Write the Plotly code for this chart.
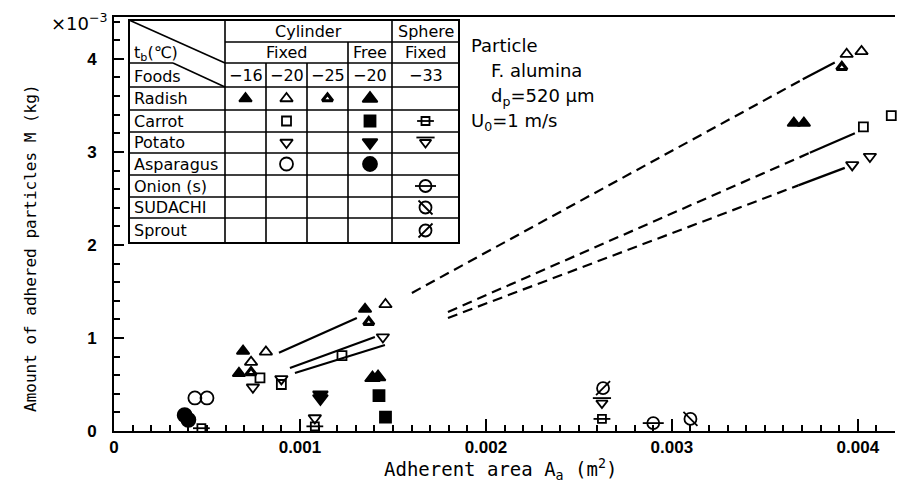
import plotly.graph_objects as go

# ---------------- data (x: adherent area [m^2], y: adhered mass [x1e-3 kg]) ----------------
radish_m16_x = [0.000694, 0.000672, 0.00135, 0.003656, 0.00371]
radish_m16_y = [0.86, 0.62, 1.31, 3.31, 3.31]
radish_m20_x = [0.000737, 0.000817, 0.00146, 0.00394, 0.00402]
radish_m20_y = [0.74, 0.85, 1.36, 4.05, 4.08]
radish_m25_x = [0.000737, 0.00137, 0.003914]
radish_m25_y = [0.63, 1.17, 3.91]
radish_free_x = [0.00139, 0.00142]
radish_free_y = [0.57, 0.58]

carrot_fixed_x = [0.000785, 0.0009, 0.001226, 0.00403, 0.00418]
carrot_fixed_y = [0.57, 0.50, 0.81, 3.27, 3.39]
carrot_free_x = [0.001425, 0.00146]
carrot_free_y = [0.38, 0.15]
carrot_sphere_x = [0.00047, 0.00108, 0.002624]
carrot_sphere_y = [0.03, 0.05, 0.13]

potato_fixed_x = [0.000747, 0.0009, 0.00108, 0.001446, 0.00397, 0.004065]
potato_fixed_y = [0.47, 0.56, 0.14, 1.01, 2.86, 2.95]
potato_free_x = [0.00111, 0.00111]
potato_free_y = [0.39, 0.35]
potato_sphere_x = [0.002624]
potato_sphere_y = [0.30]

asparagus_fixed_x = [0.000435, 0.0005]
asparagus_fixed_y = [0.355, 0.355]
asparagus_free_x = [0.00038, 0.0004]
asparagus_free_y = [0.17, 0.12]

onion_x = [0.0029]
onion_y = [0.085]
sudachi_x = [0.0031]
sudachi_y = [0.13]
sprout_x = [0.00263]
sprout_y = [0.46]

# fitted / extrapolated lines
radish_solid_x = [0.000887, 0.001306]
radish_solid_y = [0.84, 1.215]
radish_dash_x = [0.001602, 0.003704]
radish_dash_y = [1.484, 3.78]
radish_end_x = [0.003704, 0.003876]
radish_end_y = [3.78, 3.96]

potato_solid_x = [0.000946, 0.001403]
potato_solid_y = [0.677, 1.011]
carrot_solid_x = [0.000973, 0.001457]
carrot_solid_y = [0.624, 0.925]

carrot_dash_x = [0.001796, 0.003742]
carrot_dash_y = [1.28, 2.99]
carrot_end_x = [0.003742, 0.003984]
carrot_end_y = [2.99, 3.20]
potato_dash_x = [0.001796, 0.00368]
potato_dash_y = [1.215, 2.64]
potato_end_x = [0.00368, 0.00393]
potato_end_y = [2.64, 2.828]

x_tickvals = [0, 0.001, 0.002, 0.003, 0.004]
x_ticktext = ["0", "0.001", "0.002", "0.003", "0.004"]
y_tickvals = [0, 1, 2, 3, 4]
y_ticktext = ["0", "1", "2", "3", "4"]

table_cols = ["−16", "−20", "−25", "−20", "−33"]
table_foods = ["Radish", "Carrot", "Potato", "Asparagus", "Onion (s)", "SUDACHI", "Sprout"]

# ---------------- styles ----------------
K = "black"
W = "white"
PX_PER_UNIT = 93.0  # vertical pixels per 1e-3 kg


def L(symbol, size, color=K, lw=1.8, lcolor=K, dy=0):
    return dict(symbol=symbol, size=size, color=color, lw=lw, lcolor=lcolor, dy=dy)


# series: x, y, layers, (table row, table col)
series = [
    (radish_m16_x, radish_m16_y, [L("triangle-up", 11)], (0, 0)),
    (radish_m20_x, radish_m20_y, [L("triangle-up-open", 11)], (0, 1)),
    (radish_m25_x, radish_m25_y, [L("triangle-up", 9, color=W, lw=3.2)], (0, 2)),
    (radish_free_x, radish_free_y, [L("triangle-up", 13)], (0, 3)),
    (carrot_fixed_x, carrot_fixed_y, [L("square-open", 9)], (1, 1)),
    (carrot_free_x, carrot_free_y, [L("square", 11)], (1, 3)),
    (carrot_sphere_x, carrot_sphere_y, [L("square-open", 8), L("line-ew-open", 12)], (1, 4)),
    (potato_fixed_x, potato_fixed_y, [L("triangle-down-open", 11)], (2, 1)),
    (potato_free_x, potato_free_y, [L("triangle-down", 13)], (2, 3)),
    (potato_sphere_x, potato_sphere_y, [L("triangle-down-open", 10), L("line-ew-open", 13, dy=5)], (2, 4)),
    (asparagus_fixed_x, asparagus_fixed_y, [L("circle-open", 13)], (3, 1)),
    (asparagus_free_x, asparagus_free_y, [L("circle", 14)], (3, 3)),
    (onion_x, onion_y, [L("circle-open", 12), L("line-ew-open", 15)], (4, 4)),
    (sudachi_x, sudachi_y, [L("circle-open", 12), L("line-nw-open", 14)], (5, 4)),
    (sprout_x, sprout_y, [L("circle-open", 12), L("line-ne-open", 14)], (6, 4)),
]

lines = [
    (radish_solid_x, radish_solid_y, "solid"),
    (radish_dash_x, radish_dash_y, "10px,6px"),
    (radish_end_x, radish_end_y, "solid"),
    (potato_solid_x, potato_solid_y, "solid"),
    (carrot_solid_x, carrot_solid_y, "solid"),
    (carrot_dash_x, carrot_dash_y, "10px,6px"),
    (carrot_end_x, carrot_end_y, "solid"),
    (potato_dash_x, potato_dash_y, "10px,6px"),
    (potato_end_x, potato_end_y, "solid"),
]

# ---------------- geometry (pixels) ----------------
W_FIG, H_FIG = 903, 491
ML, MR, MT, MB = 114, 8, 17, 60
X_LEFT, X_RIGHT = ML, W_FIG - MR
Y_TOP, Y_BOT = MT, H_FIG - MB

fig = go.Figure()

for xs, ys, style in lines:
    fig.add_trace(go.Scatter(x=xs, y=ys, mode="lines", showlegend=False, hoverinfo="skip",
                             line=dict(color=K, width=2.2, dash=style)))

for xs, ys, layers, _ in series:
    for ly in layers:
        yy = [v + ly["dy"] / PX_PER_UNIT for v in ys]
        fig.add_trace(go.Scatter(x=xs, y=yy, mode="markers", showlegend=False, cliponaxis=False,
                                 marker=dict(symbol=ly["symbol"], size=ly["size"], color=ly["color"],
                                             line=dict(color=ly["lcolor"], width=ly["lw"]))))

# ---------------- legend table (pixel coordinate overlay axes) ----------------
cols_px = [129, 225, 266, 307, 348, 392, 459]
rows_px = [20, 42, 63, 87, 110, 132, 153, 175, 197, 218, 243]
shapes = []


def seg(x0, y0, x1, y1, w=1.6):
    shapes.append(dict(type="line", xref="x2", yref="y2", x0=x0, y0=y0, x1=x1, y1=y1,
                       line=dict(color=K, width=w)))


shapes.append(dict(type="rect", xref="x2", yref="y2", x0=cols_px[0], x1=cols_px[-1], y0=rows_px[0],
                   y1=rows_px[-1], fillcolor=W, line=dict(color=K, width=2), layer="below"))
seg(cols_px[0], rows_px[0], cols_px[0], rows_px[-1], 2)
seg(cols_px[-1], rows_px[0], cols_px[-1], rows_px[-1], 2)
seg(cols_px[0], rows_px[-1], cols_px[-1], rows_px[-1], 2)
seg(cols_px[1], rows_px[0], cols_px[1], rows_px[-1])
seg(cols_px[5], rows_px[0], cols_px[5], rows_px[-1])
seg(cols_px[1], rows_px[1], cols_px[-1], rows_px[1])
seg(cols_px[4], rows_px[1], cols_px[4], rows_px[-1])
seg(cols_px[1], rows_px[2], cols_px[-1], rows_px[2])
seg(cols_px[2], rows_px[2], cols_px[2], rows_px[-1])
seg(cols_px[3], rows_px[2], cols_px[3], rows_px[-1])
for r in rows_px[3:-1]:
    seg(cols_px[0], r, cols_px[-1], r)
# diagonal header
seg(cols_px[0], rows_px[0], cols_px[1], rows_px[2])
seg(cols_px[0], rows_px[2], 173, rows_px[2])
seg(173, rows_px[2], cols_px[1], rows_px[3])

ann = []
TF = dict(family="DejaVu Sans", size=16, color=K)


def txt(x, y, s, anchor="center", ref="x2", font=TF, **kw):
    d = dict(x=x, y=y, xref=ref, yref=ref.replace("x", "y"), text=s, showarrow=False,
             xanchor=anchor, yanchor="middle", font=font)
    d.update(kw)
    ann.append(d)


def cx(i):
    return (cols_px[i] + cols_px[i + 1]) / 2


def cy(j):
    return (rows_px[j] + rows_px[j + 1]) / 2


txt((cols_px[1] + cols_px[5]) / 2, cy(0), "Cylinder")
txt(cx(5), cy(0), "Sphere")
txt((cols_px[1] + cols_px[4]) / 2, cy(1), "Fixed")
txt(cx(4), cy(1), "Free")
txt(cx(5), cy(1), "Fixed")
for i, t in enumerate(table_cols):
    txt(cx(i + 1), cy(2), t)
txt(132, 53, "t<sub>b</sub>(℃)", anchor="left")
txt(132, cy(2) + 1, "Foods", anchor="left")
for j, f in enumerate(table_foods):
    txt(132, cy(j + 3), f, anchor="left")

for xs, ys, layers, (r, c) in series:
    for ly in layers:
        fig.add_trace(go.Scatter(x=[cx(c + 1)], y=[cy(r + 3) - ly["dy"]], xaxis="x2", yaxis="y2",
                                 mode="markers", showlegend=False, cliponaxis=False,
                                 marker=dict(symbol=ly["symbol"], size=ly["size"], color=ly["color"],
                                             line=dict(color=ly["lcolor"], width=ly["lw"]))))

# particle info text
PF = dict(family="DejaVu Sans", size=18, color=K)
txt(469, 45, "Particle", anchor="left", font=PF)
txt(489, 70, "F. alumina", anchor="left", font=PF)
txt(489, 97, "d<sub>p</sub>=520 μm", anchor="left", font=PF)
txt(469, 122, "U<sub>0</sub>=1 m/s", anchor="left", font=PF)


# outside-plot texts in paper coords
def paper(px, py):
    return (px - X_LEFT) / (X_RIGHT - X_LEFT), (Y_BOT - py) / (Y_BOT - Y_TOP)


px_, py_ = paper(110, 22)
ann.append(dict(x=px_, y=py_, xref="paper", yref="paper", text="×10<sup>−3</sup>", showarrow=False,
                xanchor="right", yanchor="middle", font=dict(family="DejaVu Sans", size=18, color=K)))
px_, py_ = paper(500, 469)
ann.append(dict(x=px_, y=py_, xref="paper", yref="paper", text="Adherent area A<sub>a</sub> (m<sup>2</sup>)",
                showarrow=False, xanchor="center", yanchor="middle",
                font=dict(family="DejaVu Sans Mono", size=19, color=K)))
px_, py_ = paper(30, 248)
ann.append(dict(x=px_, y=py_, xref="paper", yref="paper", text="Amount of adhered particles M (kg)",
                showarrow=False, xanchor="center", yanchor="middle", textangle=-90,
                font=dict(family="DejaVu Sans Mono", size=16, color=K)))

TICKF = dict(family="Liberation Sans", size=17, color=K, weight="bold")

fig.update_layout(
    width=W_FIG, height=H_FIG, margin=dict(l=ML, r=MR, t=MT, b=MB),
    paper_bgcolor=W, plot_bgcolor=W, showlegend=False,
    shapes=shapes, annotations=ann,
    xaxis=dict(range=[0, 0.0042], showline=True, linecolor=K, linewidth=2, mirror=True,
               ticks="inside", ticklen=12, tickwidth=1.5, tickcolor=K,
               tickvals=x_tickvals, ticktext=x_ticktext, tickfont=TICKF,
               minor=dict(dtick=0.0001, ticks="inside", ticklen=6, tickwidth=1.5, tickcolor=K, showgrid=False),
               showgrid=False, zeroline=False),
    yaxis=dict(range=[0, 4.45], showline=True, linecolor=K, linewidth=2, mirror=False,
               ticks="inside", ticklen=10, tickwidth=1.5, tickcolor=K,
               tickvals=y_tickvals, ticktext=y_ticktext, tickfont=TICKF, ticklabelstandoff=12,
               minor=dict(dtick=0.2, ticks="inside", ticklen=6, tickwidth=1.5, tickcolor=K, showgrid=False),
               showgrid=False, zeroline=False),
    xaxis2=dict(range=[X_LEFT, X_RIGHT], overlaying="x", visible=False, fixedrange=True),
    yaxis2=dict(range=[Y_BOT, Y_TOP], overlaying="y", visible=False, fixedrange=True),
)

fig.write_html("out.html")
